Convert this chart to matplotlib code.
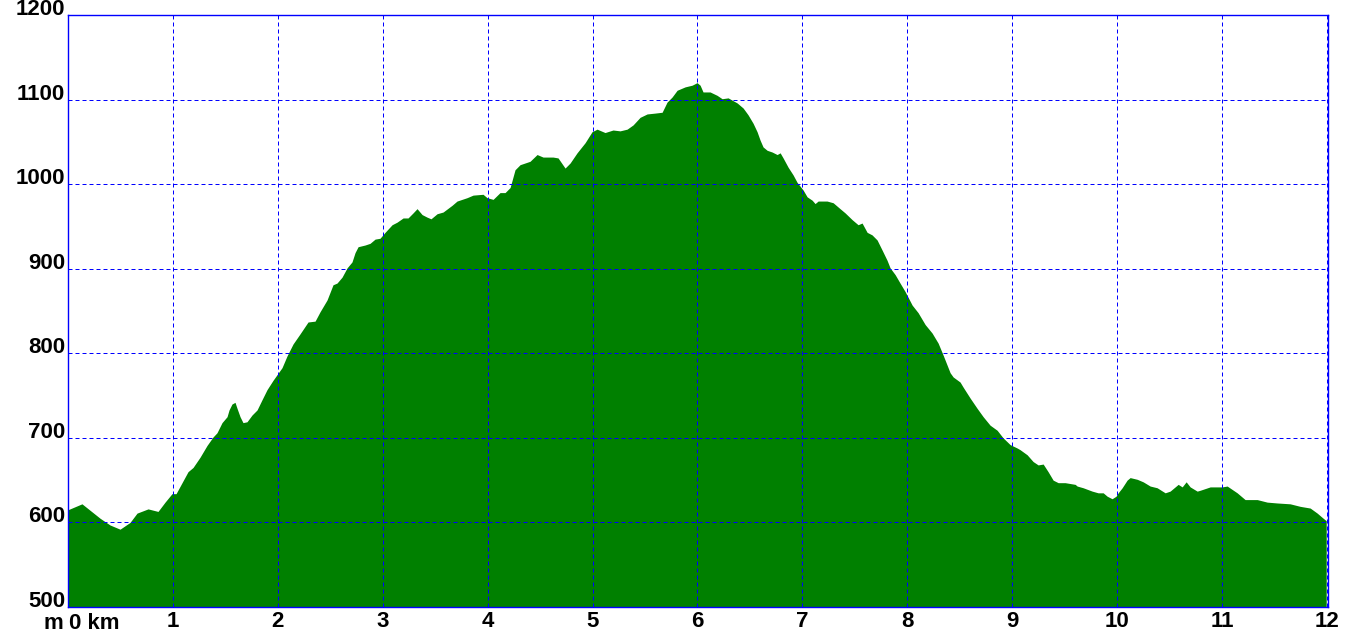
import numpy as np
import matplotlib
matplotlib.use('Agg')
import matplotlib.pyplot as plt

# afstand (km) og høyde (m) lest av profilen
dist_km = [0.000, 0.133, 0.305, 0.400, 0.496, 0.591, 0.658, 0.763, 0.858, 0.925,
           0.991, 1.030, 1.087, 1.144, 1.192, 1.258, 1.325, 1.382, 1.420, 1.468,
           1.516, 1.535, 1.563, 1.592, 1.611, 1.640, 1.668, 1.706, 1.754, 1.802,
           1.849, 1.897, 1.954, 2.040, 2.088, 2.145, 2.212, 2.288, 2.355, 2.402,
           2.469, 2.526, 2.564, 2.612, 2.660, 2.707, 2.736, 2.765, 2.831, 2.879,
           2.927, 2.974, 3.022, 3.089, 3.136, 3.194, 3.241, 3.289, 3.327, 3.375,
           3.422, 3.460, 3.518, 3.575, 3.661, 3.708, 3.804, 3.861, 3.956, 3.994,
           4.052, 4.118, 4.166, 4.214, 4.261, 4.309, 4.404, 4.471, 4.528, 4.623,
           4.671, 4.738, 4.786, 4.852, 4.929, 4.995, 5.043, 5.119, 5.195, 5.262,
           5.329, 5.386, 5.453, 5.520, 5.596, 5.663, 5.710, 5.758, 5.806, 5.882,
           5.949, 5.996, 6.025, 6.053, 6.120, 6.187, 6.235, 6.292, 6.378, 6.435,
           6.482, 6.530, 6.568, 6.597, 6.625, 6.664, 6.711, 6.759, 6.788, 6.816,
           6.864, 6.911, 6.950, 7.007, 7.045, 7.093, 7.121, 7.150, 7.235, 7.293,
           7.359, 7.407, 7.474, 7.531, 7.569, 7.617, 7.664, 7.712, 7.760, 7.807,
           7.836, 7.884, 7.931, 7.979, 8.046, 8.103, 8.170, 8.236, 8.294, 8.341,
           8.408, 8.437, 8.503, 8.532, 8.599, 8.665, 8.723, 8.789, 8.856, 8.913,
           8.980, 9.047, 9.075, 9.142, 9.199, 9.247, 9.295, 9.342, 9.390, 9.438,
           9.504, 9.600, 9.619, 9.676, 9.762, 9.819, 9.867, 9.905, 9.952, 9.990,
           10.010, 10.048, 10.095, 10.124, 10.191, 10.248, 10.315, 10.381, 10.458, 10.505,
           10.582, 10.620, 10.658, 10.696, 10.763, 10.791, 10.887, 11.001, 11.049, 11.144,
           11.220, 11.335, 11.430, 11.525, 11.649, 11.745, 11.840, 11.907, 11.954, 11.993]
hoyde_m = [615, 622, 605, 597, 592, 600, 611, 616, 613, 624,
           634, 634, 647, 660, 665, 677, 691, 701, 706, 718,
           725, 733, 740, 742, 735, 725, 718, 719, 727, 733,
           745, 757, 768, 783, 797, 811, 823, 837, 838, 849,
           863, 881, 883, 890, 901, 908, 919, 926, 928, 930,
           935, 936, 943, 952, 955, 960, 960, 966, 971, 964,
           961, 959, 965, 967, 975, 980, 984, 987, 988, 984,
           982, 990, 990, 996, 1017, 1023, 1027, 1035, 1032, 1032,
           1031, 1019, 1025, 1037, 1049, 1062, 1065, 1061, 1064, 1063,
           1065, 1070, 1079, 1083, 1084, 1085, 1097, 1103, 1111, 1115,
           1117, 1120, 1117, 1109, 1109, 1105, 1101, 1102, 1096, 1090,
           1082, 1072, 1062, 1052, 1044, 1040, 1038, 1035, 1037, 1031,
           1020, 1011, 1002, 993, 985, 981, 977, 980, 980, 978,
           971, 966, 958, 952, 954, 943, 940, 934, 922, 910,
           901, 893, 883, 873, 857, 848, 834, 824, 812, 798,
           777, 772, 766, 760, 747, 735, 725, 715, 709, 700,
           692, 688, 686, 680, 672, 668, 669, 660, 650, 647,
           647, 645, 643, 641, 637, 635, 635, 631, 628, 631,
           635, 641, 650, 653, 651, 648, 643, 641, 635, 637,
           645, 642, 648, 642, 637, 638, 642, 642, 643, 635,
           627, 627, 624, 623, 622, 619, 617, 611, 606, 602]

x_ticks = list(range(0, 13))
x_labels = [''] + [str(k) for k in range(1, 13)]
y_ticks = [500, 600, 700, 800, 900, 1000, 1100, 1200]

plt.rcParams['font.family'] = ['Liberation Sans', 'DejaVu Sans']

fig = plt.figure(figsize=(13.62, 6.39), dpi=100)
ax = fig.add_axes([68 / 1362, 32 / 639, 1260 / 1362, 592 / 639])

ax.fill_between(dist_km, hoyde_m, 500, color='#008000', linewidth=0, zorder=1)

ax.set_xlim(0, 12.01)
ax.set_ylim(500, 1200)
ax.set_xticks(x_ticks)
ax.set_xticklabels(x_labels)
ax.set_yticks(y_ticks)
ax.set_yticklabels([str(v) for v in y_ticks])

ax.set_axisbelow(False)
ax.grid(True, color='#0000ff', linewidth=0.72, linestyle=(0, (4, 3)), zorder=3)

for s in ax.spines.values():
    s.set_color('#0000ff')
    s.set_linewidth(1.0)
    s.set_zorder(4)

ax.tick_params(length=0, labelsize=16)
ax.tick_params(axis='y', pad=2)
ax.tick_params(axis='x', pad=3)
for t in ax.get_yticklabels():
    t.set_fontweight('bold')
    t.set_verticalalignment('baseline')
for t in ax.get_xticklabels():
    t.set_fontweight('bold')

# "m 0 km" i hjørnet
ax.annotate('0 km', xy=(0, 0), xycoords='axes fraction', xytext=(1, -6),
            textcoords='offset pixels', ha='left', va='top',
            fontsize=16, fontweight='bold')
ax.annotate('m', xy=(0, 0), xycoords='axes fraction', xytext=(-5, -6),
            textcoords='offset pixels', ha='right', va='top',
            fontsize=16, fontweight='bold')

fig.savefig('out.png', dpi=100)
